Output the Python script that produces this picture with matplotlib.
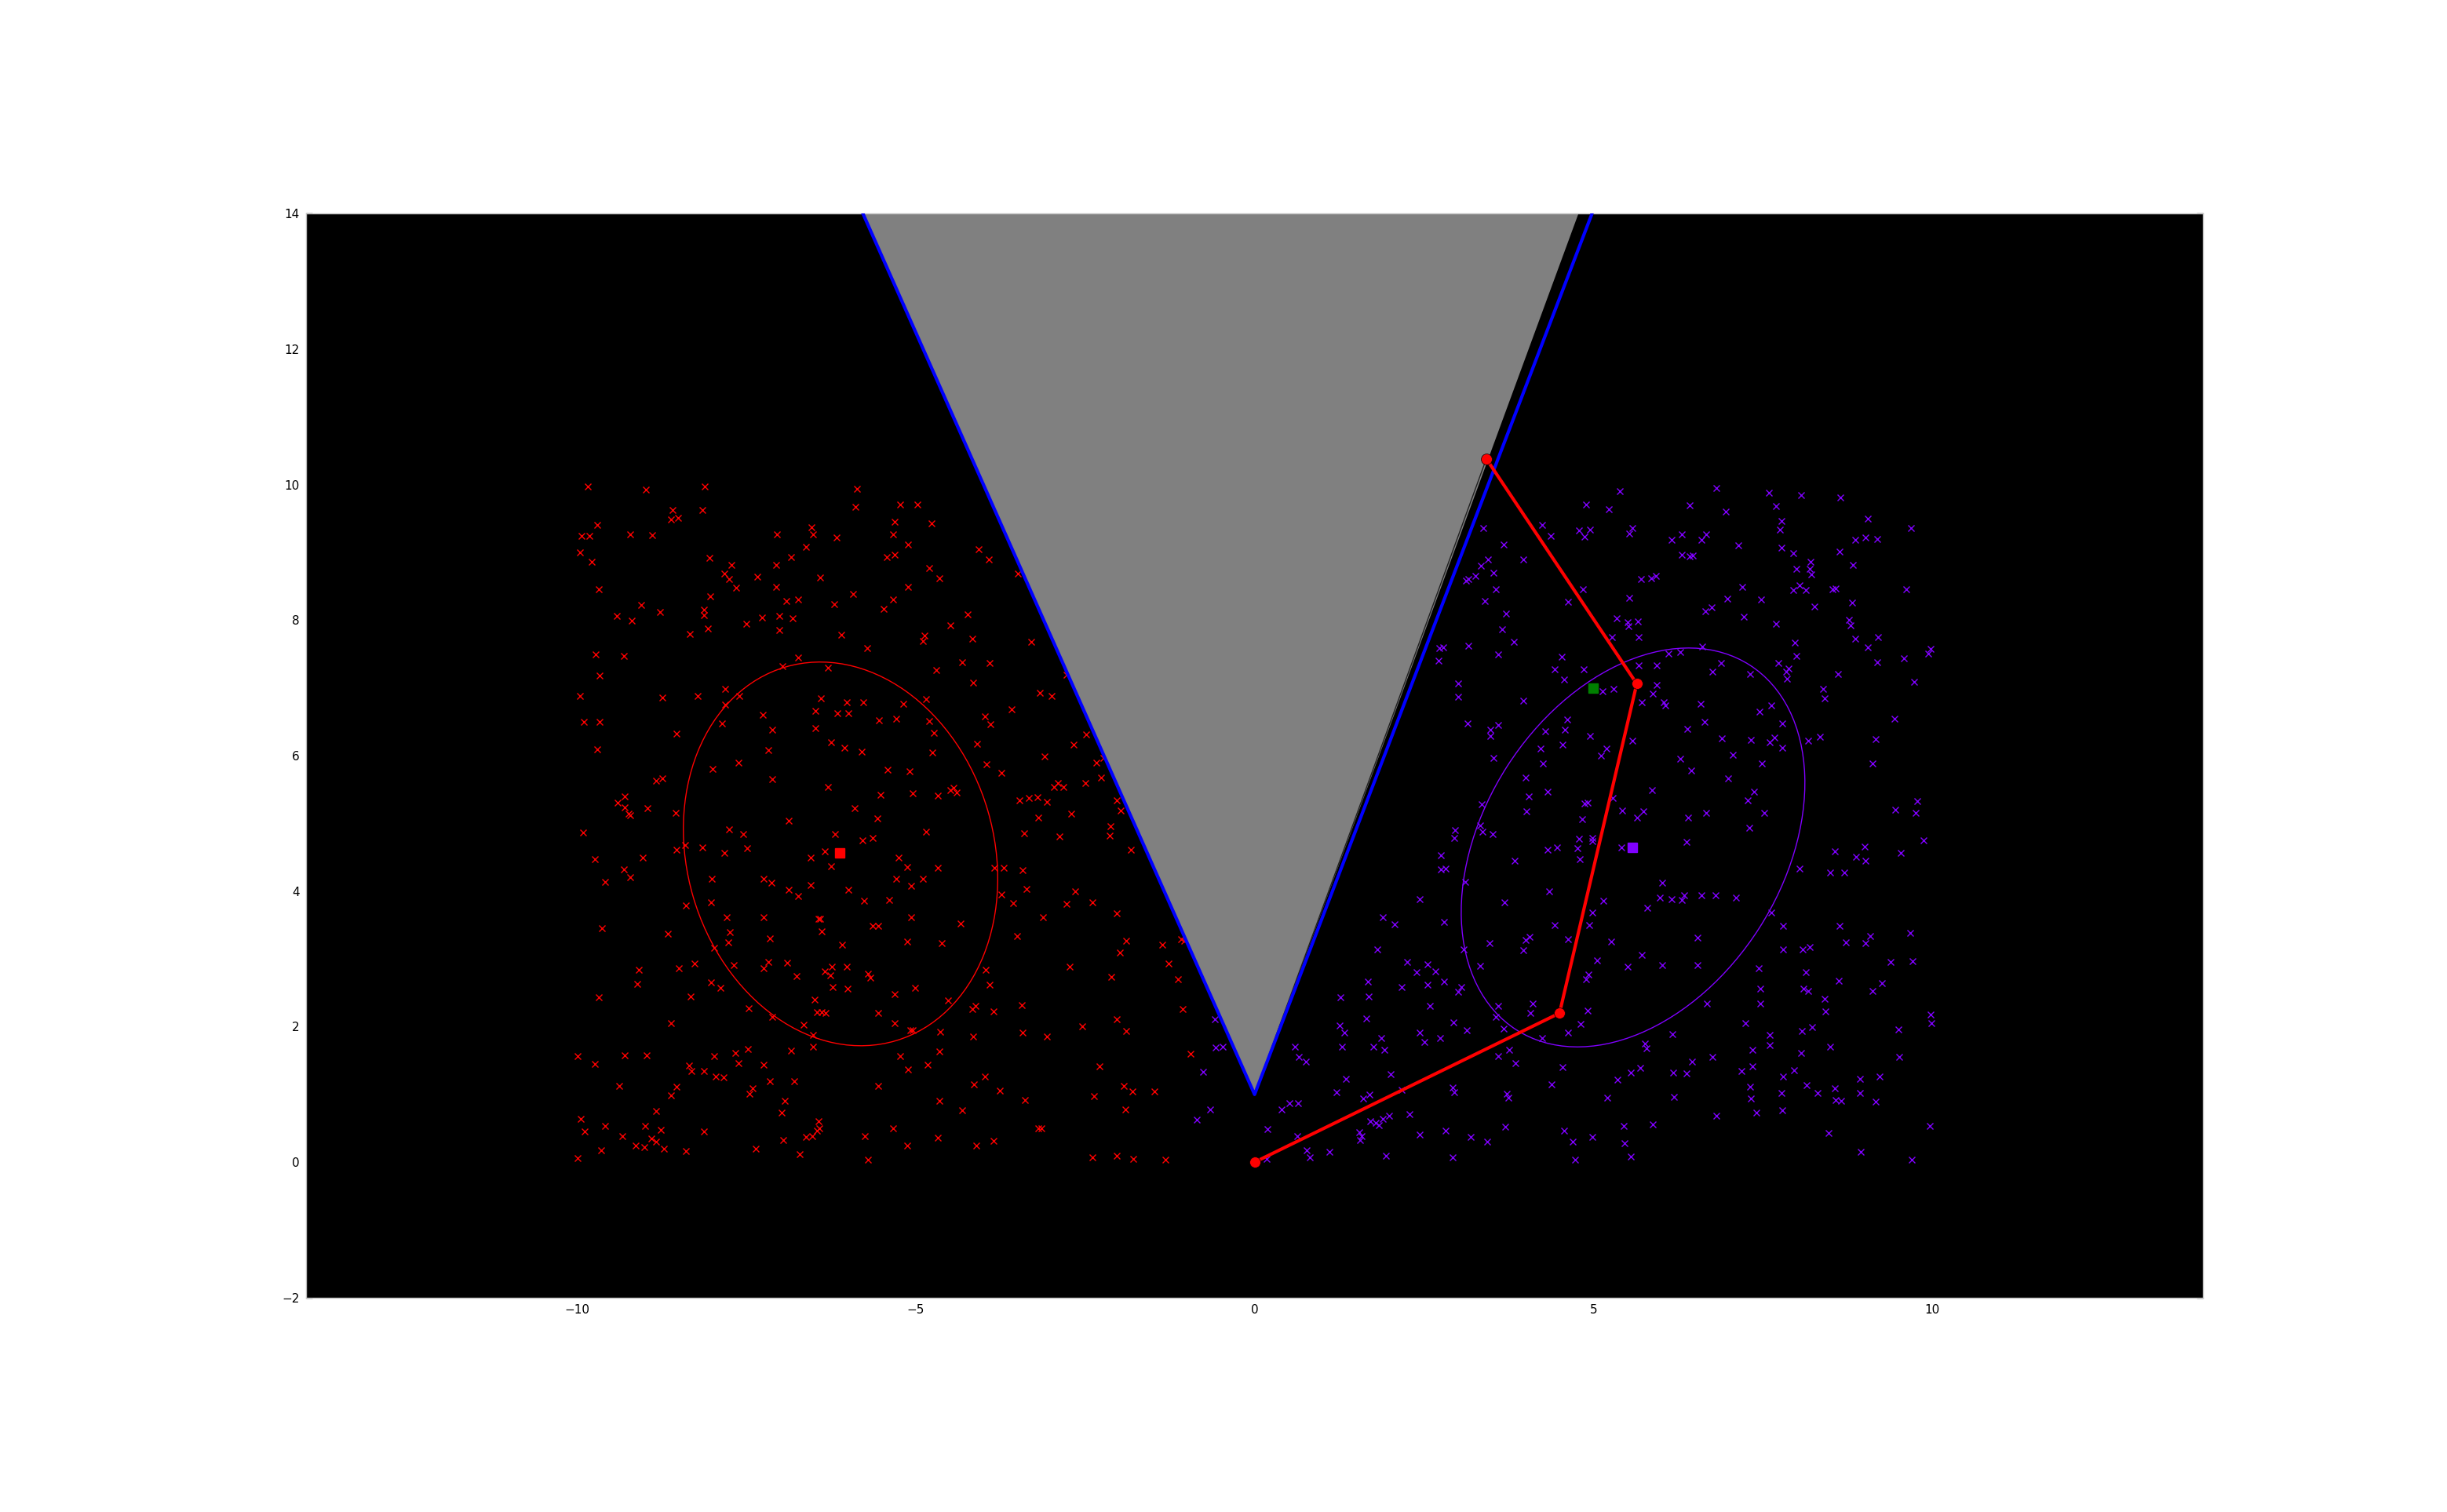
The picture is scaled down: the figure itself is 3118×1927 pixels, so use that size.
import matplotlib
matplotlib.use('Agg')
import matplotlib.pyplot as plt
from matplotlib.patches import Ellipse, Polygon

# red cluster samples (x, y)
red_pts = [
    (-9.84, 9.97), (-8.98, 9.92), (-8.11, 9.97), (-5.87, 9.94), (-8.59, 9.63), (-8.15, 9.62),
    (-5.89, 9.67), (-5.23, 9.71), (-4.97, 9.71), (-8.61, 9.49), (-8.51, 9.51), (-9.70, 9.40),
    (-5.31, 9.45), (-4.77, 9.43), (-6.54, 9.37), (-9.93, 9.24), (-9.82, 9.24), (-9.21, 9.26),
    (-8.89, 9.25), (-7.05, 9.26), (-6.51, 9.26), (-6.17, 9.22), (-5.34, 9.27), (-9.95, 9.00),
    (-6.62, 9.08), (-5.12, 9.12), (-9.78, 8.86), (-8.05, 8.92), (-6.84, 8.93), (-5.43, 8.93),
    (-5.31, 8.96), (-4.07, 9.05), (-3.92, 8.89), (-7.72, 8.81), (-7.06, 8.81), (-4.80, 8.77),
    (-7.82, 8.69), (-7.75, 8.61), (-7.34, 8.64), (-6.41, 8.63), (-4.65, 8.62), (-3.49, 8.69),
    (-9.68, 8.45), (-7.65, 8.48), (-7.06, 8.49), (-5.12, 8.49), (-5.92, 8.38), (-8.03, 8.35),
    (-9.05, 8.22), (-6.91, 8.28), (-6.73, 8.30), (-6.20, 8.23), (-5.33, 8.30), (-9.41, 8.06),
    (-9.19, 7.99), (-8.77, 8.12), (-8.12, 8.15), (-8.13, 8.07), (-7.27, 8.04), (-7.01, 8.06),
    (-6.82, 8.03), (-5.47, 8.16), (-4.23, 8.08), (-8.33, 7.80), (-8.07, 7.88), (-7.50, 7.94),
    (-7.01, 7.85), (-6.10, 7.78), (-4.87, 7.77), (-4.89, 7.69), (-4.49, 7.92), (-4.16, 7.72),
    (-5.72, 7.59), (-3.30, 7.68), (-9.72, 7.49), (-9.31, 7.47), (-6.74, 7.45), (-6.97, 7.32),
    (-6.29, 7.30), (-4.32, 7.38), (-3.91, 7.37), (-4.70, 7.26), (-9.66, 7.18), (-2.77, 7.19),
    (-4.15, 7.08), (-9.95, 6.88), (-8.74, 6.86), (-8.22, 6.88), (-7.81, 6.98), (-7.60, 6.88),
    (-6.40, 6.84), (-6.02, 6.79), (-5.77, 6.79), (-4.85, 6.83), (-3.17, 6.93), (-3.00, 6.88),
    (-9.90, 6.50), (-9.66, 6.50), (-7.81, 6.75), (-7.86, 6.48), (-7.26, 6.60), (-7.12, 6.38),
    (-6.48, 6.66), (-6.16, 6.63), (-5.99, 6.63), (-5.54, 6.52), (-5.29, 6.54), (-5.18, 6.77),
    (-4.80, 6.51), (-3.98, 6.58), (-3.90, 6.46), (-3.58, 6.68), (-8.53, 6.33), (-6.48, 6.40),
    (-4.73, 6.34), (-2.67, 6.16), (-2.48, 6.31), (-9.70, 6.09), (-7.17, 6.08), (-6.25, 6.20),
    (-6.05, 6.12), (-5.80, 6.06), (-4.75, 6.05), (-4.10, 6.17), (-3.10, 5.99), (-7.62, 5.90),
    (-8.00, 5.80), (-5.41, 5.79), (-5.09, 5.77), (-3.96, 5.87), (-3.74, 5.75), (-2.33, 5.90),
    (-2.23, 5.97), (-8.83, 5.63), (-8.74, 5.67), (-7.12, 5.65), (-2.27, 5.68), (-2.90, 5.59),
    (-2.82, 5.54), (-2.96, 5.54), (-2.50, 5.59), (-6.30, 5.54), (-5.52, 5.42), (-5.05, 5.45),
    (-4.67, 5.41), (-4.49, 5.49), (-4.44, 5.52), (-4.40, 5.46), (-9.29, 5.40), (-9.40, 5.30),
    (-9.29, 5.24), (-9.24, 5.14), (-9.21, 5.12), (-8.96, 5.23), (-8.54, 5.15), (-5.90, 5.23),
    (-3.47, 5.34), (-3.33, 5.37), (-3.20, 5.39), (-3.06, 5.32), (-2.03, 5.34), (-1.98, 5.19),
    (-2.71, 5.14), (-3.19, 5.09), (-5.57, 5.07), (-6.88, 5.04), (-9.91, 4.87), (-7.75, 4.91),
    (-7.55, 4.84), (-6.19, 4.84), (-4.85, 4.88), (-3.40, 4.85), (-2.88, 4.81), (-2.13, 4.96),
    (-2.14, 4.82), (-8.53, 4.61), (-8.40, 4.68), (-8.15, 4.65), (-7.83, 4.57), (-7.49, 4.63),
    (-6.34, 4.59), (-5.79, 4.75), (-5.63, 4.78), (-1.83, 4.61), (-9.74, 4.47), (-9.03, 4.49),
    (-9.31, 4.32), (-9.21, 4.20), (-9.59, 4.14), (-6.55, 4.49), (-6.25, 4.37), (-5.25, 4.50),
    (-5.13, 4.36), (-4.67, 4.35), (-3.84, 4.34), (-3.70, 4.34), (-3.42, 4.31), (-8.01, 4.18),
    (-7.24, 4.18), (-7.13, 4.13), (-6.55, 4.09), (-5.29, 4.18), (-5.07, 4.08), (-4.89, 4.18),
    (-8.02, 3.84), (-6.87, 4.02), (-6.74, 3.93), (-6.00, 4.02), (-5.76, 3.86), (-5.39, 3.87),
    (-3.74, 3.95), (-3.56, 3.82), (-3.37, 4.03), (-2.65, 4.00), (-2.77, 3.81), (-2.39, 3.84),
    (-8.39, 3.79), (-2.03, 3.67), (-9.63, 3.45), (-7.79, 3.62), (-7.24, 3.61), (-6.44, 3.59),
    (-6.41, 3.59), (-6.39, 3.41), (-5.64, 3.49), (-5.55, 3.49), (-5.07, 3.61), (-4.34, 3.52),
    (-3.12, 3.61), (-8.66, 3.37), (-7.74, 3.39), (-7.77, 3.25), (-7.15, 3.30), (-6.09, 3.21),
    (-5.13, 3.26), (-4.62, 3.23), (-3.50, 3.34), (-1.89, 3.27), (-1.36, 3.21), (-1.08, 3.29),
    (-1.04, 3.27), (-7.97, 3.16), (-1.99, 3.09), (-9.09, 2.84), (-9.11, 2.63), (-8.50, 2.86),
    (-8.27, 2.93), (-7.68, 2.91), (-7.17, 2.95), (-7.24, 2.86), (-6.90, 2.94), (-6.34, 2.82),
    (-6.24, 2.88), (-6.26, 2.76), (-6.02, 2.88), (-5.71, 2.78), (-5.67, 2.72), (-2.73, 2.89),
    (-1.27, 2.93), (-8.02, 2.65), (-7.88, 2.57), (-6.76, 2.75), (-6.23, 2.58), (-6.01, 2.56),
    (-3.97, 2.84), (-3.91, 2.62), (-2.12, 2.73), (-1.13, 2.70), (-9.68, 2.43), (-8.32, 2.45),
    (-6.49, 2.40), (-5.31, 2.48), (-5.01, 2.57), (-4.52, 2.39), (-7.47, 2.27), (-6.46, 2.21),
    (-6.39, 2.21), (-6.33, 2.20), (-5.56, 2.20), (-4.16, 2.26), (-4.12, 2.31), (-3.85, 2.22),
    (-3.43, 2.32), (-1.06, 2.26), (-8.61, 2.05), (-7.12, 2.15), (-6.66, 2.03), (-6.52, 1.88),
    (-5.31, 2.05), (-5.08, 1.95), (-5.05, 1.95), (-4.64, 1.92), (-4.15, 1.85), (-3.42, 1.91),
    (-3.07, 1.85), (-2.54, 2.00), (-2.03, 2.11), (-1.89, 1.94), (-9.99, 1.56), (-9.74, 1.45),
    (-9.30, 1.58), (-8.97, 1.58), (-7.98, 1.57), (-7.66, 1.61), (-7.48, 1.67), (-6.84, 1.65),
    (-6.52, 1.71), (-5.23, 1.57), (-4.65, 1.63), (-0.95, 1.60), (-8.35, 1.43), (-8.31, 1.34),
    (-8.13, 1.35), (-7.62, 1.46), (-7.24, 1.44), (-5.12, 1.37), (-4.82, 1.44), (-2.29, 1.41),
    (-7.95, 1.27), (-7.84, 1.25), (-7.15, 1.20), (-6.79, 1.20), (-3.98, 1.27), (-4.14, 1.15),
    (-9.38, 1.13), (-8.53, 1.11), (-8.61, 0.99), (-7.41, 1.09), (-7.45, 1.01), (-5.55, 1.13),
    (-3.76, 1.06), (-3.39, 0.92), (-2.37, 0.98), (-1.93, 1.13), (-1.80, 1.05), (-1.48, 1.04),
    (-6.93, 0.91), (-4.65, 0.91), (-1.91, 0.78), (-8.83, 0.75), (-6.98, 0.73), (-4.32, 0.77),
    (-9.94, 0.64), (-9.88, 0.45), (-9.59, 0.54), (-8.99, 0.54), (-9.33, 0.39), (-8.76, 0.48),
    (-8.90, 0.35), (-8.83, 0.30), (-8.13, 0.45), (-6.44, 0.61), (-6.46, 0.47), (-6.42, 0.50),
    (-6.62, 0.37), (-6.53, 0.39), (-6.95, 0.33), (-5.75, 0.38), (-5.33, 0.50), (-4.67, 0.36),
    (-3.85, 0.32), (-3.19, 0.50), (-3.14, 0.50), (-9.64, 0.18), (-9.13, 0.24), (-9.01, 0.22),
    (-8.72, 0.20), (-8.39, 0.16), (-7.36, 0.20), (-6.71, 0.12), (-5.13, 0.25), (-4.11, 0.25),
    (-9.99, 0.06), (-5.71, 0.04), (-2.39, 0.07), (-2.03, 0.10), (-1.79, 0.05), (-1.31, 0.04),
]

# purple cluster samples (x, y)
purple_pts = [
    (5.39, 9.90), (6.82, 9.95), (7.59, 9.88), (8.07, 9.84), (8.65, 9.81), (4.89, 9.70),
    (5.23, 9.64), (6.42, 9.69), (7.69, 9.68), (6.95, 9.60), (9.05, 9.50), (3.37, 9.36),
    (4.24, 9.41), (4.37, 9.24), (4.79, 9.32), (4.95, 9.34), (4.87, 9.23), (5.53, 9.28),
    (5.57, 9.36), (6.16, 9.19), (6.31, 9.26), (6.60, 9.18), (6.66, 9.26), (7.14, 9.10),
    (7.75, 9.33), (7.78, 9.46), (8.86, 9.18), (9.02, 9.22), (9.19, 9.20), (9.69, 9.36),
    (3.68, 9.11), (7.77, 9.07), (7.95, 8.99), (8.63, 9.01), (3.44, 8.89), (3.96, 8.90),
    (6.30, 8.96), (6.42, 8.94), (6.47, 8.95), (8.20, 8.86), (8.83, 8.81), (3.34, 8.80),
    (3.52, 8.70), (3.26, 8.65), (3.12, 8.58), (3.16, 8.60), (8.00, 8.76), (8.19, 8.76),
    (8.21, 8.67), (5.70, 8.60), (5.85, 8.62), (5.92, 8.65), (3.56, 8.46), (4.85, 8.46),
    (7.20, 8.49), (7.95, 8.44), (8.04, 8.51), (8.13, 8.44), (8.53, 8.45), (8.57, 8.47),
    (9.62, 8.45), (3.40, 8.28), (4.62, 8.27), (5.53, 8.33), (6.98, 8.32), (7.47, 8.31),
    (8.26, 8.20), (8.82, 8.26), (3.71, 8.10), (6.65, 8.13), (6.74, 8.19), (7.22, 8.05),
    (8.77, 8.00), (5.34, 8.03), (5.50, 7.97), (5.52, 7.91), (5.66, 7.98), (7.69, 7.94),
    (3.65, 7.86), (3.83, 7.68), (5.27, 7.75), (5.67, 7.75), (8.79, 7.92), (8.87, 7.73),
    (9.20, 7.75), (2.73, 7.59), (2.78, 7.60), (3.16, 7.62), (7.97, 7.67), (9.05, 7.60),
    (9.98, 7.57), (9.94, 7.50), (2.72, 7.40), (3.59, 7.49), (4.53, 7.46), (6.61, 7.61),
    (6.28, 7.53), (6.11, 7.50), (6.88, 7.37), (7.99, 7.47), (9.58, 7.44), (7.73, 7.37),
    (7.88, 7.29), (7.84, 7.24), (9.19, 7.38), (8.61, 7.21), (4.43, 7.27), (4.57, 7.12),
    (4.86, 7.27), (5.67, 7.33), (5.94, 7.33), (6.76, 7.24), (7.31, 7.21), (7.86, 7.13),
    (3.00, 7.07), (3.00, 6.87), (3.96, 6.81), (5.14, 6.95), (5.30, 6.98), (5.71, 6.79),
    (5.88, 6.91), (5.94, 7.04), (6.04, 6.79), (6.06, 6.74), (6.58, 6.76), (8.39, 6.99),
    (8.41, 6.85), (9.73, 7.09), (3.14, 6.48), (3.48, 6.38), (3.48, 6.29), (3.59, 6.45),
    (4.29, 6.36), (4.58, 6.38), (4.61, 6.53), (4.95, 6.29), (5.57, 6.22), (6.39, 6.39),
    (6.64, 6.50), (6.90, 6.26), (7.45, 6.65), (7.32, 6.23), (7.63, 6.74), (7.60, 6.20),
    (7.67, 6.27), (7.79, 6.47), (7.79, 6.12), (8.17, 6.22), (8.34, 6.28), (9.16, 6.24),
    (9.44, 6.54), (3.52, 5.97), (4.22, 6.11), (4.55, 6.16), (4.25, 5.88), (5.19, 6.10),
    (5.11, 6.00), (6.28, 5.95), (6.44, 5.78), (7.06, 6.01), (7.49, 5.89), (9.12, 5.88),
    (4.00, 5.68), (4.32, 5.47), (4.05, 5.40), (5.87, 5.49), (6.99, 5.67), (7.37, 5.47),
    (3.35, 5.28), (4.01, 5.18), (4.83, 5.06), (4.87, 5.29), (4.91, 5.31), (5.29, 5.38),
    (5.43, 5.19), (5.65, 5.09), (5.74, 5.18), (6.40, 5.08), (6.66, 5.15), (7.28, 5.34),
    (7.52, 5.15), (9.46, 5.20), (9.78, 5.33), (9.76, 5.15), (2.96, 4.90), (2.95, 4.79),
    (3.33, 4.97), (3.36, 4.88), (3.51, 4.84), (4.33, 4.61), (4.46, 4.65), (4.76, 4.63),
    (4.79, 4.77), (4.80, 4.47), (4.98, 4.79), (4.99, 4.74), (6.37, 4.73), (7.30, 4.93),
    (8.56, 4.59), (9.00, 4.66), (8.88, 4.51), (9.02, 4.45), (9.54, 4.57), (9.87, 4.75),
    (2.75, 4.53), (2.75, 4.32), (2.82, 4.33), (3.84, 4.45), (5.41, 4.64), (8.04, 4.33),
    (8.49, 4.27), (8.70, 4.27), (3.11, 4.14), (4.35, 4.00), (6.02, 4.12), (5.98, 3.90),
    (6.15, 3.88), (6.30, 3.87), (6.34, 3.94), (6.60, 3.94), (6.80, 3.94), (7.10, 3.91),
    (2.44, 3.88), (3.69, 3.84), (5.15, 3.86), (5.79, 3.75), (4.99, 3.69), (7.63, 3.68),
    (1.89, 3.62), (2.07, 3.51), (2.79, 3.54), (4.43, 3.50), (4.94, 3.50), (7.80, 3.49),
    (8.63, 3.49), (9.68, 3.38), (3.47, 3.23), (4.00, 3.28), (4.06, 3.32), (4.62, 3.29),
    (5.26, 3.26), (6.54, 3.31), (8.73, 3.25), (9.02, 3.23), (9.08, 3.34), (1.81, 3.14),
    (3.08, 3.14), (3.96, 3.13), (5.71, 3.06), (7.80, 3.14), (8.09, 3.14), (8.19, 3.18),
    (2.25, 2.95), (2.55, 2.92), (2.39, 2.81), (2.67, 2.82), (3.33, 2.90), (5.05, 2.98),
    (5.51, 2.89), (6.02, 2.91), (6.54, 2.91), (7.44, 2.86), (9.39, 2.96), (9.71, 2.97),
    (1.67, 2.66), (2.17, 2.59), (2.55, 2.62), (2.79, 2.67), (3.05, 2.58), (3.00, 2.51),
    (4.93, 2.77), (4.89, 2.70), (7.46, 2.56), (8.13, 2.80), (8.10, 2.56), (8.17, 2.53),
    (8.62, 2.68), (9.12, 2.53), (9.26, 2.64), (1.27, 2.43), (1.68, 2.44), (2.59, 2.31),
    (3.59, 2.31), (4.11, 2.34), (4.07, 2.20), (4.92, 2.24), (6.67, 2.34), (7.46, 2.34),
    (8.41, 2.41), (8.43, 2.22), (1.65, 2.12), (1.26, 2.02), (1.33, 1.91), (2.44, 1.91),
    (2.74, 1.83), (2.93, 2.06), (3.13, 1.95), (3.68, 1.97), (4.24, 1.83), (4.63, 1.91),
    (4.81, 2.04), (7.24, 2.05), (7.60, 1.88), (8.08, 1.94), (8.23, 1.99), (9.50, 1.96),
    (9.98, 2.18), (9.99, 2.05), (1.87, 1.83), (2.51, 1.77), (0.60, 1.71), (1.29, 1.71),
    (1.75, 1.70), (1.91, 1.66), (3.56, 2.15), (3.76, 1.66), (5.76, 1.75), (5.78, 1.68),
    (6.17, 1.89), (7.35, 1.66), (7.60, 1.73), (8.49, 1.70), (0.65, 1.55), (0.76, 1.49),
    (3.60, 1.57), (3.85, 1.46), (4.55, 1.40), (6.46, 1.49), (6.76, 1.55), (7.35, 1.42),
    (8.07, 1.61), (9.51, 1.55), (2.01, 1.30), (1.35, 1.23), (5.35, 1.22), (5.55, 1.32),
    (5.69, 1.39), (6.18, 1.32), (6.38, 1.31), (7.18, 1.34), (7.96, 1.36), (7.80, 1.26),
    (8.93, 1.23), (9.22, 1.27), (1.21, 1.03), (1.60, 0.94), (1.69, 1.00), (2.17, 1.07),
    (2.95, 1.03), (2.92, 1.10), (3.72, 1.01), (3.74, 0.95), (4.38, 1.15), (5.21, 0.95),
    (6.19, 0.96), (7.31, 1.11), (7.32, 0.94), (7.77, 1.02), (8.15, 1.14), (8.31, 1.02),
    (8.56, 1.09), (8.58, 0.92), (8.66, 0.91), (8.93, 1.02), (9.17, 0.89), (0.40, 0.78),
    (0.51, 0.87), (0.64, 0.87), (7.41, 0.73), (7.79, 0.77), (1.71, 0.61), (1.79, 0.58),
    (1.83, 0.55), (1.89, 0.64), (1.98, 0.69), (2.29, 0.71), (3.70, 0.52), (4.57, 0.47),
    (5.45, 0.53), (5.88, 0.56), (6.82, 0.69), (9.96, 0.54), (0.19, 0.49), (0.63, 0.39),
    (1.54, 0.44), (1.58, 0.39), (1.56, 0.33), (2.44, 0.41), (2.82, 0.46), (3.19, 0.37),
    (3.43, 0.30), (4.70, 0.30), (4.98, 0.37), (5.46, 0.28), (8.47, 0.43), (0.77, 0.18),
    (0.81, 0.07), (1.11, 0.15), (1.94, 0.09), (2.92, 0.07), (4.73, 0.04), (5.55, 0.08),
    (8.94, 0.15), (9.70, 0.04), (0.18, 0.05),
    (-0.59, 2.11), (-0.58, 1.69), (-0.47, 1.71), (-0.76, 1.33), (-0.66, 0.78), (-0.85, 0.63),
]

red_x = [p[0] for p in red_pts]
red_y = [p[1] for p in red_pts]
purple_x = [p[0] for p in purple_pts]
purple_y = [p[1] for p in purple_pts]

# cluster means and fitted ellipses (center, width, height, angle)
red_mean = (-6.12, 4.56)
purple_mean = (5.58, 4.65)
goal = (5.0, 7.0)
red_ell = ((-6.11, 4.55), 4.53, 5.75, 16.4)
purple_ell = ((5.585, 4.645), 6.39, 4.42, 57.4)

# cone: apex and edge points at the top of the view
apex = (0.0, 1.0)
cone_left = (-5.78, 14.0)
cone_right = (4.78, 14.0)
blue_right = (4.98, 14.0)

# arm chain
arm_x = [0.0, 4.50, 5.64, 3.42]
arm_y = [0.0, 2.20, 7.06, 10.38]

RED = '#ff0000'
PURPLE = '#8000ff'

fig = plt.figure(figsize=(31.18, 19.27), dpi=100)
ax = fig.add_axes([0.125, 0.1417, 0.7754, 0.7171])
ax.set_facecolor('black')

ax.plot(red_x, red_y, 'x', color=RED, ms=6, mew=1, zorder=1)
ax.plot(purple_x, purple_y, 'x', color=PURPLE, ms=6, mew=1, zorder=1)

cone = Polygon([apex, cone_right, cone_left], closed=True, facecolor='#808080',
               edgecolor='none', zorder=2)
ax.add_patch(cone)
ax.plot([apex[0], arm_x[3]], [apex[1], arm_y[3]], color='#202020', lw=1, zorder=3)
ax.plot([cone_left[0], apex[0], blue_right[0]], [cone_left[1], apex[1], blue_right[1]],
        color='#0000ff', lw=3, zorder=3)

for (c, w, h, a), col in [(red_ell, RED), (purple_ell, PURPLE)]:
    ax.add_patch(Ellipse(c, w, h, angle=a, fill=False, edgecolor=col, lw=1, zorder=4))

ax.plot(arm_x, arm_y, '-o', color=RED, lw=3, ms=10, mec='k', mew=0.5, zorder=5)

ax.plot([red_mean[0]], [red_mean[1]], 's', color=RED, ms=9, mec=RED, zorder=6)
ax.plot([purple_mean[0]], [purple_mean[1]], 's', color=PURPLE, ms=9, mec=PURPLE, zorder=6)
ax.plot([goal[0]], [goal[1]], 's', color='#008000', ms=9, mec='#008000', zorder=6)

ax.set_xlim(-14, 14)
ax.set_ylim(-2, 14)
ax.set_xticks([-10, -5, 0, 5, 10])
ax.set_yticks(range(-2, 15, 2))
ax.tick_params(direction='in', top=True, right=True, length=6, width=1, color='k',
               labelsize=11, pad=6)
for s in ax.spines.values():
    s.set_color('#c0c0c0')
    s.set_linewidth(1)

fig.savefig('out.png', dpi=100, facecolor='white')
